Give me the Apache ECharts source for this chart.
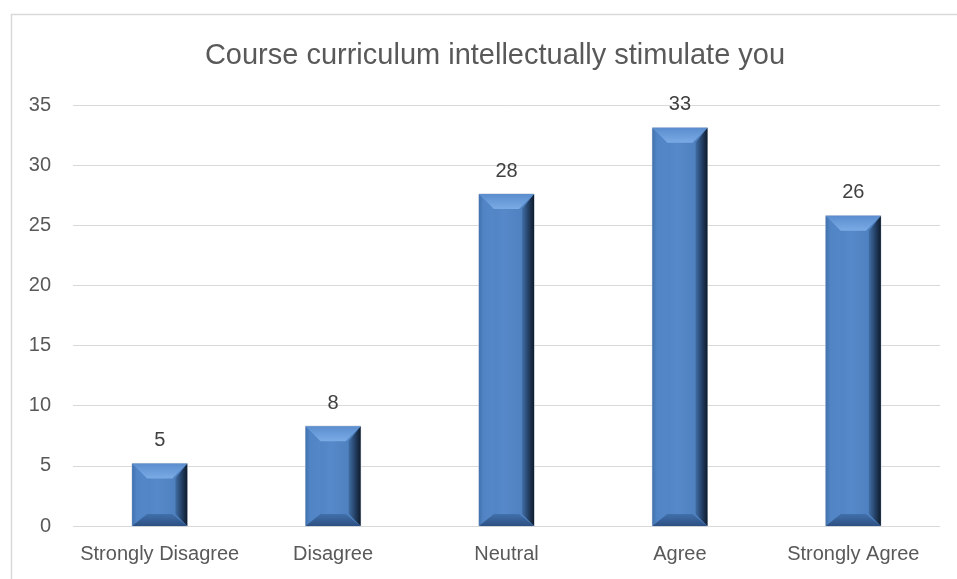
<!DOCTYPE html>
<html>
<head>
<meta charset="utf-8">
<script src="https://cdn.jsdelivr.net/npm/echarts@6/dist/echarts.min.js"></script>
<style>html,body{margin:0;padding:0;background:#fff}#c{width:957px;height:579px}</style>
</head>
<body>
<div id="c"></div>
<script>
var titleText = 'Course curriculum intellectually stimulate you';
var categories = ['Strongly Disagree', 'Disagree', 'Neutral', 'Agree', 'Strongly Agree'];
var values = [5.2, 8.3, 27.6, 33.1, 25.8];
var yTicks = {min: 0, max: 35, interval: 5};

var FONT = '"Liberation Sans", Arial, sans-serif';
var chart = echarts.init(document.getElementById('c'));

function renderBevel(params, api) {
  var idx = api.value(0), v = api.value(1);
  var top = api.coord([idx, v]);
  var base = api.coord([idx, 0]);
  var w = api.size([1, 0])[0] * 0.318;
  var x0 = top[0] - w / 2, x1 = top[0] + w / 2, y0 = top[1], y1 = base[1];
  var h = y1 - y0;
  var bt = Math.min(15, h / 2), bb = Math.min(12, h / 2), bs = 15;
  var G = echarts.graphic;
  return {
    type: 'group',
    children: [
      {type: 'rect', shape: {x: x0, y: y0, width: w, height: h},
        style: {fill: new G.LinearGradient(0, 0, 1, 0, [
          {offset: 0, color: '#4b7dbc'}, {offset: 0.45, color: '#5689c9'}, {offset: 1, color: '#4b7cba'}]),
          stroke: '#c3ccd8', lineWidth: 1}},
      {type: 'polygon', shape: {points: [[x0, y0], [x0 + bs, y0 + bt], [x0 + bs, y1 - bb], [x0, y1]]},
        style: {fill: new G.LinearGradient(0, 0, 1, 0, [
          {offset: 0, color: '#4272af'}, {offset: 0.3, color: '#5084c4'}, {offset: 1, color: '#5387c7'}])}},
      {type: 'polygon', shape: {points: [[x1, y0], [x1, y1], [x1 - 12, y1 - bb], [x1 - 12, y0 + bt]]},
        style: {fill: new G.LinearGradient(0, 0, 1, 0, [
          {offset: 0, color: '#416ea6'}, {offset: 0.55, color: '#233f63'}, {offset: 1, color: '#0f1b2b'}])}},
      {type: 'polygon', shape: {points: [[x0, y0], [x1, y0], [x1 - bs, y0 + bt], [x0 + bs, y0 + bt]]},
        style: {fill: new G.LinearGradient(0, 0, 0, 1, [
          {offset: 0, color: '#5b8dce'}, {offset: 1, color: '#7aabe6'}])}},
      {type: 'polygon', shape: {points: [[x0, y1], [x1, y1], [x1 - bs, y1 - bb], [x0 + bs, y1 - bb]]},
        style: {fill: new G.LinearGradient(0, 0, 0, 1, [
          {offset: 0, color: '#4170ab'}, {offset: 1, color: '#2d5083'}])}},
      {type: 'text', style: {text: String(Math.round(v)), x: top[0], y: y0 - 13,
        align: 'center', verticalAlign: 'bottom', fill: '#404040', font: '20px ' + FONT}}
    ]
  };
}

chart.setOption({
  backgroundColor: '#ffffff',
  animation: false,
  graphic: [{type: 'rect', left: 9, top: 12, shape: {x: 0.5, y: 0.5, width: 1000, height: 1000},
    style: {fill: 'none', stroke: '#d9d9d9', lineWidth: 1.5}, silent: true}],
  title: {text: titleText, left: 490, top: 36, textAlign: 'center',
    textStyle: {fontFamily: FONT, fontSize: 29, fontWeight: 'normal', color: '#595959'}},
  grid: {left: 73, right: 17, top: 105, bottom: 53},
  xAxis: {type: 'category', data: categories,
    axisLine: {show: false}, axisTick: {show: false},
    axisLabel: {interval: 0, color: '#595959', fontFamily: FONT, fontSize: 20, margin: 18}},
  yAxis: {type: 'value', min: yTicks.min, max: yTicks.max, interval: yTicks.interval,
    axisLine: {show: false}, axisTick: {show: false},
    splitLine: {lineStyle: {color: '#d9d9d9', width: 1}},
    axisLabel: {color: '#595959', fontFamily: FONT, fontSize: 20, margin: 22}},
  series: [{type: 'custom', renderItem: renderBevel,
    data: values.map(function (v, i) { return [i, v]; }),
    encode: {x: 0, y: 1}}]
});
</script>
</body>
</html>
